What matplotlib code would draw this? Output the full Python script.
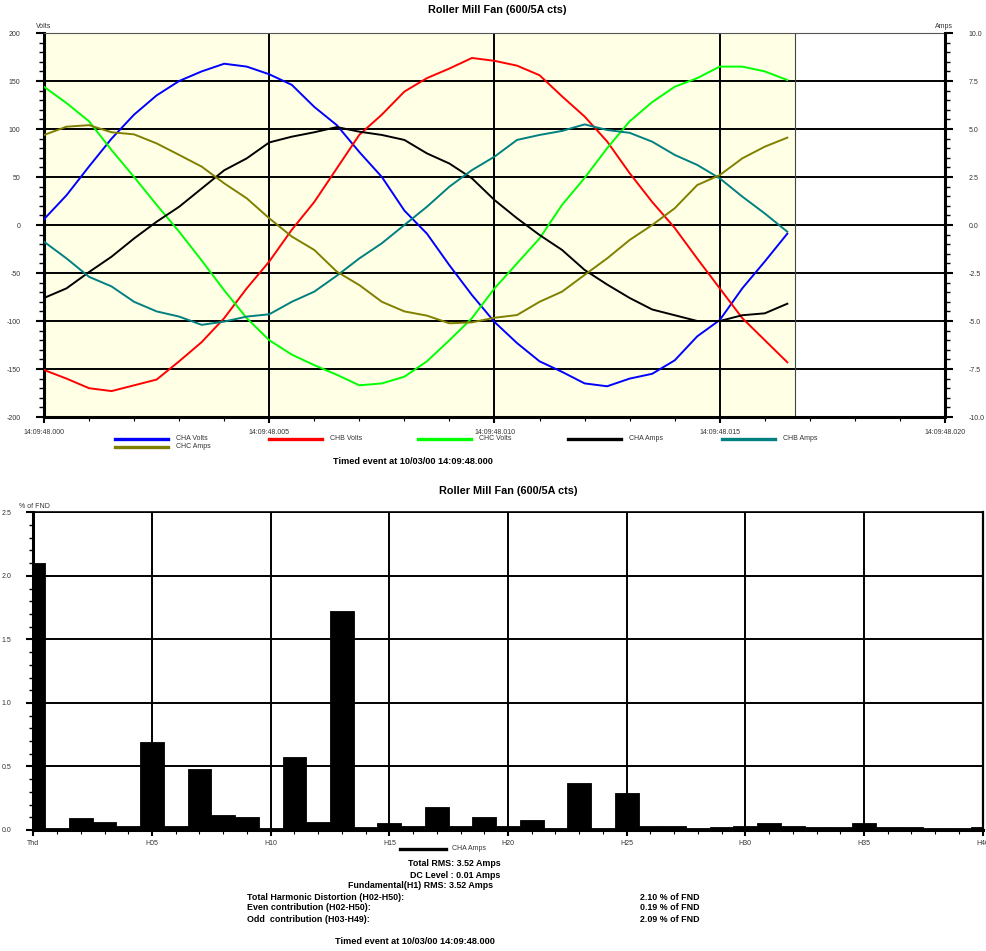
import numpy as np
import matplotlib.pyplot as plt
from matplotlib.lines import Line2D
from matplotlib.ticker import MultipleLocator, FixedLocator, FixedFormatter

plt.rcParams['font.family'] = ['Liberation Sans', 'DejaVu Sans']
plt.rcParams['axes.unicode_minus'] = False

W, H = 987, 951

# waveform capture, one sample every 0.5 ms over one 60 Hz cycle
t = np.arange(34) * 0.0005
cycle_end = 1 / 60

cha_volts = [6, 31, 61, 90, 115, 135, 150, 160, 168, 165, 157, 146, 123, 104, 76, 50, 15, -9,
             -42, -73, -101, -123, -142, -153, -165, -168, -160, -155, -141, -116, -99, -66, -38, -9]
chb_volts = [-151, -160, -170, -173, -167, -161, -142, -122, -97, -66, -38, -5, 24, 59, 94, 115, 139, 153,
             163, 174, 171, 166, 156, 134, 113, 87, 54, 24, -3, -35, -66, -97, -120, -143]
chc_volts = [144, 127, 108, 78, 50, 21, -7, -37, -68, -97, -120, -135, -146, -156, -167, -165, -158, -142,
             -120, -97, -66, -40, -14, 21, 49, 80, 108, 128, 144, 153, 165, 165, 160, 151]
cha_amps = [-3.8, -3.3, -2.45, -1.65, -0.7, 0.17, 0.95, 1.9, 2.85, 3.47, 4.3, 4.6, 4.83, 5.1, 4.86, 4.69,
            4.43, 3.73, 3.2, 2.43, 1.3, 0.35, -0.52, -1.3, -2.34, -3.1, -3.8, -4.4, -4.7, -5.0, -5.0,
            -4.7, -4.6, -4.1]
chb_amps = [-0.87, -1.74, -2.7, -3.2, -4.0, -4.5, -4.77, -5.2, -5.03, -4.77, -4.65, -4.0, -3.47, -2.64,
            -1.74, -0.95, 0.0, 0.95, 2.0, 2.86, 3.56, 4.43, 4.69, 4.9, 5.24, 4.95, 4.8, 4.34, 3.65, 3.13,
            2.43, 1.48, 0.6, -0.35]
chc_amps = [4.69, 5.12, 5.2, 4.83, 4.72, 4.25, 3.65, 3.04, 2.17, 1.39, 0.35, -0.6, -1.3, -2.43, -3.13,
            -4.0, -4.5, -4.72, -5.12, -5.07, -4.83, -4.69, -4.0, -3.47, -2.6, -1.74, -0.78, 0.0, 0.87,
            2.08, 2.6, 3.47, 4.08, 4.55]

time_ticks = [0.0, 0.005, 0.010, 0.015, 0.020]
time_labels = ['14:09:48.000', '14:09:48.005', '14:09:48.010', '14:09:48.015', '14:09:48.020']

# harmonic spectrum of CHA Amps, % of fundamental
harm_labels = ['Thd'] + ['H%02d' % n for n in range(1, 41)]
harm_values = [2.10, 0.018, 0.092, 0.066, 0.034, 0.69, 0.034, 0.48, 0.115, 0.105, 0.018, 0.577, 0.066,
               1.726, 0.024, 0.058, 0.034, 0.184, 0.034, 0.105, 0.034, 0.079, 0.018, 0.373, 0.018, 0.29,
               0.034, 0.034, 0.018, 0.021, 0.034, 0.052, 0.034, 0.021, 0.021, 0.058, 0.024, 0.024, 0.016,
               0.016, 0.024]

volt_series = [('CHA Volts', cha_volts, '#0000ff'),
               ('CHB Volts', chb_volts, '#ff0000'),
               ('CHC Volts', chc_volts, '#00ff00')]
amp_series = [('CHA Amps', cha_amps, '#000000'),
              ('CHB Amps', chb_amps, '#008080'),
              ('CHC Amps', chc_amps, '#808000')]

LABEL = '#333333'


def fx(px):
    return px / W


def fy(py):
    return 1 - py / H


fig = plt.figure(figsize=(W / 100, H / 100), dpi=100)

# ---- waveform chart ----
ax = fig.add_axes([fx(44), fy(417), (945 - 44) / W, (417 - 33) / H])
ax.set_xlim(0, 0.020)
ax.set_ylim(-200, 200)
ax.axvspan(0, cycle_end, color='#ffffe6', zorder=0)
ax.axvline(cycle_end, color='#444444', lw=0.8, zorder=1)

for name, vals, col in volt_series:
    ax.plot(t, vals, color=col, lw=1.4, zorder=3)

ax.xaxis.set_major_locator(FixedLocator(time_ticks))
ax.xaxis.set_major_formatter(FixedFormatter(time_labels))
ax.xaxis.set_minor_locator(MultipleLocator(0.001))
ax.yaxis.set_major_locator(MultipleLocator(50))
ax.yaxis.set_minor_locator(MultipleLocator(10))
ax.grid(True, which='major', color='black', lw=1.4, zorder=2)
ax.set_axisbelow(True)

ax.tick_params(axis='y', which='major', length=6, width=1.5, labelsize=5, pad=11, labelcolor=LABEL)
ax.tick_params(axis='y', which='minor', length=3.5, width=1)
ax.tick_params(axis='x', which='major', length=4, width=1.5, labelsize=5, pad=5, labelcolor=LABEL)
ax.tick_params(axis='x', which='minor', length=3, width=0.8)
ax.spines['left'].set_linewidth(2.2)
ax.spines['bottom'].set_linewidth(2.2)
ax.spines['top'].set_linewidth(0.8)
ax.spines['top'].set_color('#555555')
ax.spines['right'].set_visible(False)

ax2 = ax.twinx()
ax2.set_ylim(-10, 10)
for name, vals, col in amp_series:
    ax2.plot(t, vals, color=col, lw=1.4, zorder=3)
ax2.yaxis.set_major_locator(MultipleLocator(2.5))
ax2.yaxis.set_minor_locator(MultipleLocator(0.5))
ax2.tick_params(axis='y', which='major', length=6, width=1.5, labelsize=5, pad=11, labelcolor=LABEL)
ax2.tick_params(axis='y', which='minor', length=3.5, width=1)
for s in ('left', 'top', 'bottom'):
    ax2.spines[s].set_visible(False)
ax2.spines['right'].set_linewidth(2.2)

fig.text(fx(44), fy(27), 'Volts', fontsize=5, color=LABEL, ha='center', va='center')
fig.text(fx(944), fy(27), 'Amps', fontsize=5, color=LABEL, ha='center', va='center')
fig.text(fx(497), fy(10), 'Roller Mill Fan (600/5A cts)', fontsize=7.8, fontweight='bold',
         ha='center', va='center')

# legend laid out in rows like the recorder's report
legend_slots = [(115, 438.5), (269, 438.5), (418, 438.5), (568, 438.5), (722, 438.5), (115, 447)]
for (name, vals, col), (lx, ly) in zip(volt_series + amp_series, legend_slots):
    fig.add_artist(Line2D([fx(lx), fx(lx + 53)], [fy(ly), fy(ly)], color=col, lw=2.4))
    fig.text(fx(lx + 61), fy(ly), name, fontsize=5, color=LABEL, ha='left', va='center')

fig.text(fx(413), fy(462), 'Timed event at 10/03/00 14:09:48.000', fontsize=6.6, fontweight='bold',
         ha='center', va='center')

# ---- harmonic spectrum ----
bx = fig.add_axes([fx(33.3), fy(830), (982.7 - 33.3) / W, (830 - 512.3) / H])
pos = np.arange(len(harm_values))
bx.bar(pos, harm_values, width=1.0, color='black', edgecolor='black', lw=0.6, zorder=3)
bx.set_xlim(0, 40)
bx.set_ylim(0, 2.5)
bx.xaxis.set_major_locator(FixedLocator(pos[::5]))
bx.xaxis.set_major_formatter(FixedFormatter(harm_labels[::5]))
bx.xaxis.set_minor_locator(MultipleLocator(1))
bx.yaxis.set_major_locator(MultipleLocator(0.5))
bx.yaxis.set_minor_locator(MultipleLocator(0.1))
bx.yaxis.set_major_formatter(plt.FormatStrFormatter('%.1f'))
bx.grid(True, which='major', color='black', lw=1.4, zorder=2)
bx.set_axisbelow(True)
bx.tick_params(axis='y', which='major', length=5, width=1.5, labelsize=5, pad=11, labelcolor=LABEL)
bx.tick_params(axis='y', which='minor', length=3, width=1)
bx.tick_params(axis='x', which='major', length=4, width=1.5, labelsize=5, pad=3, labelcolor=LABEL)
bx.tick_params(axis='x', which='minor', length=3, width=0.8)
bx.spines['left'].set_linewidth(2.2)
bx.spines['bottom'].set_linewidth(2.2)
bx.spines['right'].set_linewidth(1.6)
bx.spines['top'].set_linewidth(1.2)

fig.text(fx(34), fy(506.5), '% of FND', fontsize=5, color=LABEL, ha='center', va='center')
fig.text(fx(508), fy(491), 'Roller Mill Fan (600/5A cts)', fontsize=7.8, fontweight='bold',
         ha='center', va='center')

fig.add_artist(Line2D([fx(400), fx(446)], [fy(849), fy(849)], color='black', lw=2.4))
fig.text(fx(452), fy(849), 'CHA Amps', fontsize=5, color=LABEL, ha='left', va='center')

# summary figures under the spectrum
fig.text(fx(454), fy(863), 'Total RMS: 3.52 Amps', fontsize=6.4, fontweight='bold', ha='center', va='center')
fig.text(fx(455), fy(875), 'DC Level : 0.01 Amps', fontsize=6.4, fontweight='bold', ha='center', va='center')
fig.text(fx(421), fy(886), 'Fundamental(H1) RMS: 3.52 Amps', fontsize=6.4, fontweight='bold',
         ha='center', va='center')
summary_rows = [('Total Harmonic Distortion (H02-H50):', '2.10 % of FND'),
                ('Even contribution (H02-H50):', '0.19 % of FND'),
                ('Odd  contribution (H03-H49):', '2.09 % of FND')]
for k, (lab, val) in enumerate(summary_rows):
    yy = 897 + k * 11
    fig.text(fx(247), fy(yy), lab, fontsize=6.4, fontweight='bold', ha='left', va='center')
    fig.text(fx(640), fy(yy), val, fontsize=6.4, fontweight='bold', ha='left', va='center')

fig.text(fx(415), fy(941), 'Timed event at 10/03/00 14:09:48.000', fontsize=6.6, fontweight='bold',
         ha='center', va='center')

fig.savefig('out.png', dpi=100)
